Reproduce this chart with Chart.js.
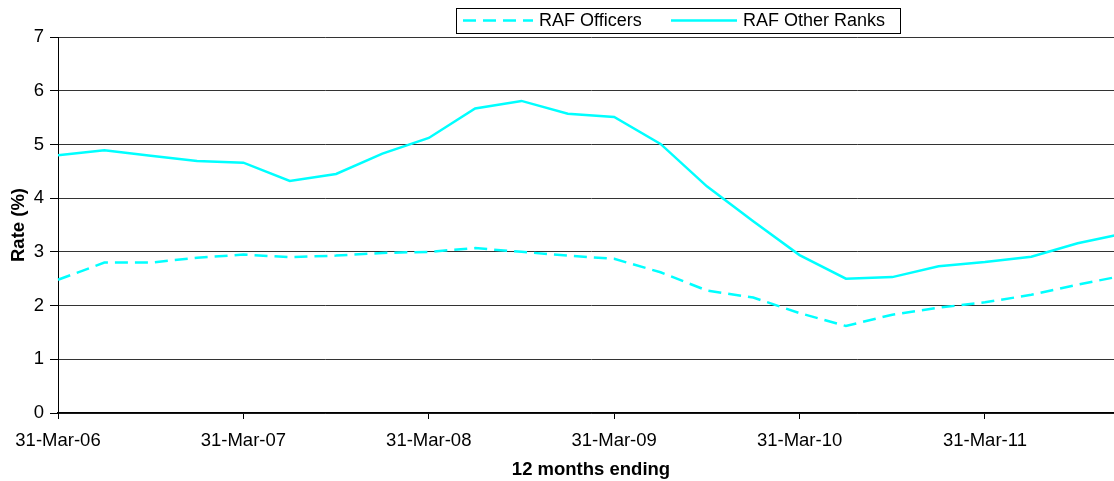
<!DOCTYPE html>
<html>
<head>
<meta charset="utf-8">
<script src="https://cdn.jsdelivr.net/npm/chart.js@4.4.0/dist/chart.umd.min.js"></script>
<style>
    html, body { margin: 0; padding: 0; background: #fff; overflow: hidden; }
    #wrap { position: relative; width: 1130px; height: 481px; }
</style>
</head>
<body>
<div id="wrap"><canvas id="rateChart"></canvas></div>
<script>
// quarterly "12 months ending" periods
const periods = [
    '31-Mar-06', '30-Jun-06', '30-Sep-06', '31-Dec-06',
    '31-Mar-07', '30-Jun-07', '30-Sep-07', '31-Dec-07',
    '31-Mar-08', '30-Jun-08', '30-Sep-08', '31-Dec-08',
    '31-Mar-09', '30-Jun-09', '30-Sep-09', '31-Dec-09',
    '31-Mar-10', '30-Jun-10', '30-Sep-10', '31-Dec-10',
    '31-Mar-11', '30-Jun-11', '30-Sep-11', '31-Dec-11'
];
const officers = [2.48, 2.80, 2.80, 2.89, 2.95, 2.90, 2.93, 2.98, 3.00, 3.07, 3.00, 2.93,
                  2.87, 2.62, 2.28, 2.15, 1.86, 1.62, 1.83, 1.96, 2.06, 2.20, 2.39, 2.56];
const otherRanks = [4.80, 4.89, 4.79, 4.69, 4.66, 4.32, 4.45, 4.83, 5.12, 5.67, 5.81, 5.57,
                    5.51, 5.01, 4.22, 3.57, 2.94, 2.50, 2.53, 2.73, 2.81, 2.91, 3.16, 3.34];
const seriesNames = ['RAF Officers', 'RAF Other Ranks'];

const FONT = 'Liberation Sans, Arial, sans-serif';

// Excel style legend in a box at the top
const boxLegend = {
    id: 'boxLegend',
    afterDraw(chart) {
        const ctx = chart.ctx;
        ctx.save();
        ctx.fillStyle = '#fff';
        ctx.fillRect(456.5, 8.5, 444, 25);
        ctx.strokeStyle = '#000';
        ctx.lineWidth = 1;
        ctx.strokeRect(456.5, 8.5, 444, 25);
        const slots = [{ x0: 463, x1: 533, tx: 539 }, { x0: 671, x1: 737, tx: 743 }];
        ctx.font = '18px ' + FONT;
        ctx.textBaseline = 'middle';
        chart.data.datasets.forEach((ds, i) => {
            const s = slots[i];
            ctx.strokeStyle = ds.borderColor;
            ctx.lineWidth = ds.borderWidth;
            ctx.setLineDash(ds.borderDash || []);
            ctx.beginPath();
            ctx.moveTo(s.x0, 20.5);
            ctx.lineTo(s.x1, 20.5);
            ctx.stroke();
            ctx.setLineDash([]);
            ctx.fillStyle = '#000';
            ctx.fillText(ds.label, s.tx, 21.5);
        });
        ctx.restore();
    }
};

new Chart(document.getElementById('rateChart').getContext('2d'), {
    type: 'line',
    data: {
        labels: periods,
        datasets: [{
            label: seriesNames[0],
            data: officers,
            borderColor: '#00ffff',
            borderWidth: 2.5,
            borderDash: [13, 7],
            pointRadius: 0,
            tension: 0
        }, {
            label: seriesNames[1],
            data: otherRanks,
            borderColor: '#00ffff',
            borderWidth: 2.5,
            pointRadius: 0,
            tension: 0
        }]
    },
    options: {
        responsive: true,
        maintainAspectRatio: false,
        animation: false,
        layout: { padding: { top: 37, right: 6, bottom: 0, left: 0 } },
        plugins: {
            legend: { display: false },
            tooltip: { enabled: false }
        },
        scales: {
            x: {
                type: 'category',
                offset: false,
                border: { color: '#000', width: 1.5 },
                grid: {
                    drawOnChartArea: false,
                    drawTicks: true,
                    tickLength: 6,
                    tickWidth: 1,
                    tickColor: '#000'
                },
                ticks: {
                    autoSkip: false,
                    maxRotation: 0,
                    padding: 11,
                    color: '#000',
                    font: { family: FONT, size: 18.5 },
                    callback: (v, i) => (i % 4 === 0 ? periods[i] : null)
                },
                title: {
                    display: true,
                    text: '12 months ending',
                    color: '#000',
                    padding: { top: 0, bottom: 0 },
                    font: { family: FONT, size: 18.5, weight: 'bold' }
                },
                afterFit: s => { s.height = 68; }
            },
            y: {
                min: 0,
                max: 7,
                border: { color: '#000', width: 1 },
                grid: { color: '#333', tickColor: '#000', tickLength: 8 },
                ticks: {
                    stepSize: 1,
                    padding: 6,
                    color: '#000',
                    font: { family: FONT, size: 18.5 }
                },
                title: {
                    display: true,
                    text: 'Rate (%)',
                    color: '#000',
                    padding: { top: 8, bottom: 4 },
                    font: { family: FONT, size: 18.5, weight: 'bold' }
                },
                afterFit: s => { s.width = 58; }
            }
        }
    },
    plugins: [boxLegend]
});
</script>
</body>
</html>
